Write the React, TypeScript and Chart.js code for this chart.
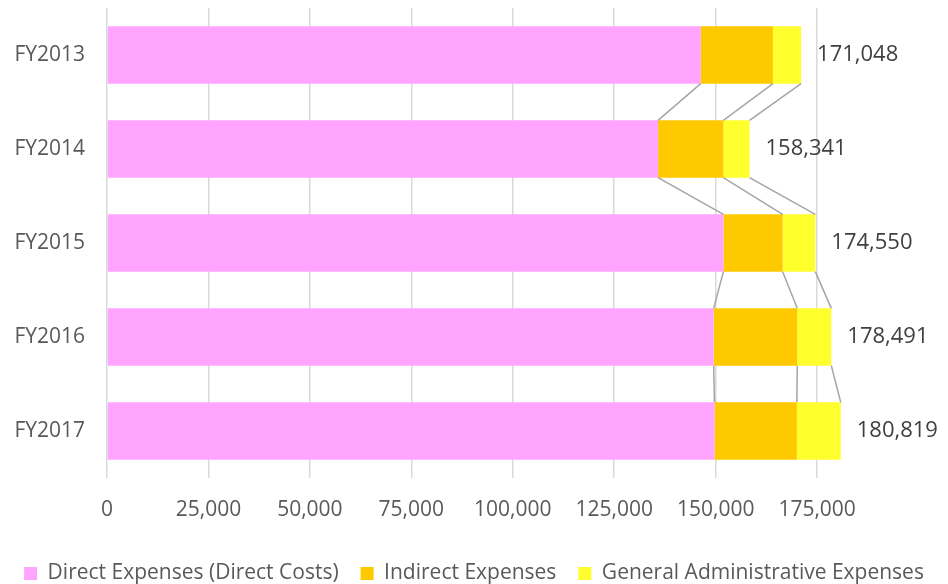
import {useEffect, useRef} from "react";

import {Chart, registerables} from "chart.js";

Chart.register(...registerables);

const years = ["FY2013", "FY2014", "FY2015", "FY2016", "FY2017"];
const directCosts = [146300, 135800, 151900, 149500, 149700];
const indirectCosts = [17800, 16100, 14600, 20600, 20300];
const adminCosts = [6948, 6441, 8050, 8391, 10819];
const totals = [171048, 158341, 174550, 178491, 180819];
const xTicks = [0, 25000, 50000, 75000, 100000, 125000, 150000, 175000];

const FONT = "'Open Sans', sans-serif";
const TEXT = "#595959";

// Excel style series lines between the ends of each stacked segment
const seriesLines = {
  id: "seriesLines",
  afterDatasetsDraw(chart: Chart) {
    const ctx = chart.ctx;
    ctx.save();
    ctx.strokeStyle = "#a5a5a5";
    ctx.lineWidth = 1.5;
    chart.data.datasets.forEach((_, di) => {
      const bars = chart.getDatasetMeta(di).data as any[];
      for (let i = 0; i < bars.length - 1; i++) {
        const a = bars[i];
        const b = bars[i + 1];
        ctx.beginPath();
        ctx.moveTo(a.x, a.y + a.height / 2);
        ctx.lineTo(b.x, b.y - b.height / 2);
        ctx.stroke();
      }
    });
    ctx.restore();
  },
};

// total labels at the end of each bar
const totalLabels = {
  id: "totalLabels",
  afterDatasetsDraw(chart: Chart) {
    const ctx = chart.ctx;
    const xScale = chart.scales.x;
    const yScale = chart.scales.y;
    ctx.save();
    ctx.font = `22px ${FONT}`;
    ctx.fillStyle = "#404040";
    ctx.textAlign = "left";
    ctx.textBaseline = "middle";
    totals.forEach((t, i) => {
      ctx.fillText(t.toLocaleString("en-US"), xScale.getPixelForValue(t) + 16, yScale.getPixelForValue(i));
    });
    ctx.restore();
  },
};

export default function App() {
  const chartRef = useRef<HTMLCanvasElement>(null);
  const chartInstance = useRef<Chart | null>(null);

  useEffect(() => {
    document.body.style.margin = "0";
    document.body.style.overflow = "hidden";
    if (!chartRef.current) return;

    if (chartInstance.current) {
      chartInstance.current.destroy();
    }

    const ctx = chartRef.current.getContext("2d");
    if (ctx) {
      chartInstance.current = new Chart(ctx, {
        type: "bar",
        data: {
          labels: years,
          datasets: [
            {
              label: "Direct Expenses (Direct Costs)",
              data: directCosts,
              backgroundColor: "#ffa5ff",
            },
            {
              label: "Indirect Expenses",
              data: indirectCosts,
              backgroundColor: "#ffc900",
            },
            {
              label: "General Administrative Expenses",
              data: adminCosts,
              backgroundColor: "#ffff2d",
            },
          ],
        },
        options: {
          indexAxis: "y",
          animation: false,
          responsive: true,
          maintainAspectRatio: false,
          datasets: {
            bar: {
              categoryPercentage: 1,
              barPercentage: 0.61,
            },
          },
          layout: {
            padding: {top: 8, right: 0, left: 0, bottom: 0},
          },
          scales: {
            x: {
              stacked: true,
              min: 0,
              max: 207250,
              border: {display: false},
              grid: {color: "#d9d9d9", lineWidth: 1.5, drawTicks: false},
              afterBuildTicks: scale => {
                scale.ticks = xTicks.map(value => ({value}));
              },
              afterFit: scale => {
                scale.height = 63;
                scale.paddingRight = 0;
              },
              ticks: {
                padding: 19,
                color: TEXT,
                font: {family: FONT, size: 21},
                callback: v => Number(v).toLocaleString("en-US"),
              },
            },
            y: {
              stacked: true,
              border: {display: false},
              grid: {display: false, drawTicks: false},
              afterFit: scale => {
                scale.width = 107;
                scale.paddingTop = 0;
                scale.paddingBottom = 0;
              },
              ticks: {
                padding: 22,
                color: TEXT,
                font: {family: FONT, size: 21},
              },
            },
          },
          plugins: {
            legend: {
              position: "bottom",
              labels: {
                color: TEXT,
                font: {family: FONT, size: 21},
                boxWidth: 13,
                boxHeight: 13,
                padding: 22,
              },
            },
            tooltip: {enabled: false},
          },
        },
        plugins: [seriesLines, totalLabels],
      });
    }

    return () => {
      if (chartInstance.current) {
        chartInstance.current.destroy();
      }
    };
  }, []);

  return (
    <div style={{width: 948, height: 594, position: "relative"}}>
      <canvas ref={chartRef} />
    </div>
  );
}
